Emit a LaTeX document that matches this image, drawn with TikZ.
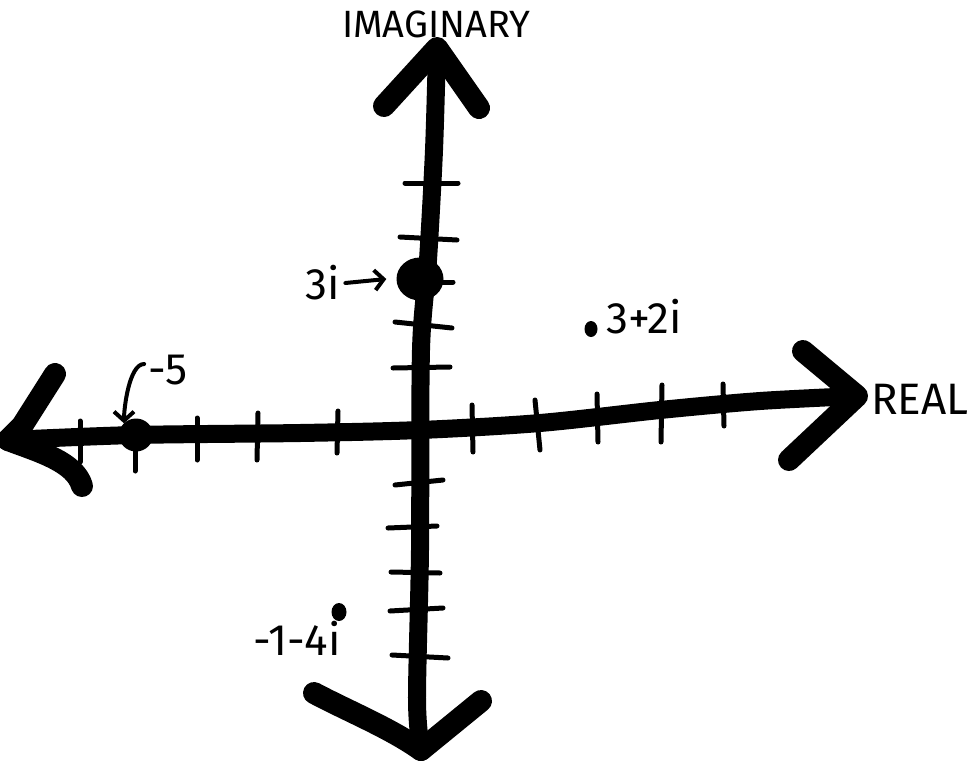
\documentclass[tikz,border=0pt]{standalone}
\usepackage{fontspec}
\setmainfont{Fira Sans}
\usetikzlibrary{arrows.meta,shapes.geometric}
\begin{document}
\begin{tikzpicture}[x=1pt,y=-1pt,
  axis/.style={line width=18pt, line cap=round, line join=round},
  head/.style={line width=22pt, line cap=round, line join=round},
  tickmark/.style={line width=5pt, line cap=round},
  lbl/.style={inner sep=0pt, font=\fontsize{44}{44}\selectfont},
  dot/.style={ellipse, fill=black, inner sep=0pt},
  ptr/.style={line width=4pt, line cap=round, -{Straight Barb[length=9pt,width=20pt,line width=4pt]}}
]
\useasboundingbox (0,0) rectangle (967,761);

% axis ends
\coordinate (xL) at (8,440);
\coordinate (xR) at (857,396);
\coordinate (yT) at (437,48);
\coordinate (yB) at (421,750);

% horizontal axis
\draw[axis] plot[smooth, tension=0.5] coordinates
  {(xL) (135,435) (300,433) (420,430) (540,423) (660,410) (760,401) (xR)};
% vertical axis
\draw[axis] plot[smooth, tension=0.5] coordinates
  {(yT) (434,150) (428,260) (421,350) (420,550) (417,700) (yB)};

% arrowheads
\draw[head] (55,374) -- (22,426) -- (xL);
\draw[head] (xL) .. controls (40,452) and (75,462) .. (82,486);
\draw[head] (803,351) -- (xR) -- (789,460);
\draw[head] (384,106) -- (yT) -- (479,108);
\draw[head] (314,693) .. controls (350,712) and (390,728) .. (yB);
\draw[head] (481,701) -- (yB);

% ticks on the real axis
\foreach \a/\b/\c/\d in {80/421/80/462, 135/440/135/471, 197/418/197/460,
  258/413/257/460, 338/411/337/453, 472/405/473/452, 535/400/540/450,
  597/394/598/442, 662/385/661/442, 723/384/724/426}
  \draw[tickmark] (\a,\b) -- (\c,\d);
% ticks on the imaginary axis
\foreach \a/\b/\c/\d in {405/183/458/183, 400/237/457/240, 420/282/453/282,
  395/322/452/328, 393/368/450/367, 395/485/443/480, 388/528/437/526,
  391/572/440/573, 390/611/443/608, 392/655/448/658}
  \draw[tickmark] (\a,\b) -- (\c,\d);

% points
\node[dot, minimum width=34pt, minimum height=33pt] (d5) at (136,435) {};
\node[dot, minimum width=47pt, minimum height=43pt] (d3i) at (420,279) {};
\node[dot, minimum width=13pt, minimum height=16pt] (d32) at (591,329) {};
\node[dot, minimum width=15pt, minimum height=18pt] (d14) at (339,612) {};

% labels
\node[lbl, font=\fontsize{38}{38}\selectfont] (limag) at (436,24) {IMAGINARY};
\node[lbl] (lreal) at (920,399) {REAL};
\node[lbl] (l32) at (644,317) {3+2i};
\node[lbl] (l14) at (297,638) {-1-4i};
\node[lbl] (l3i) at (323,283) {3i};
\node[lbl] (l5) at (168,370) {-5};

% pointers
\draw[ptr] ([xshift=5pt]l3i.east) -- ([xshift=-10pt]d3i.west);
\draw[ptr] ([xshift=-4pt,yshift=6pt]l5.west) .. controls +(-15,0) and +(0,-15) .. ([xshift=-12pt,yshift=-5pt]d5.north);
\end{tikzpicture}
\end{document}
